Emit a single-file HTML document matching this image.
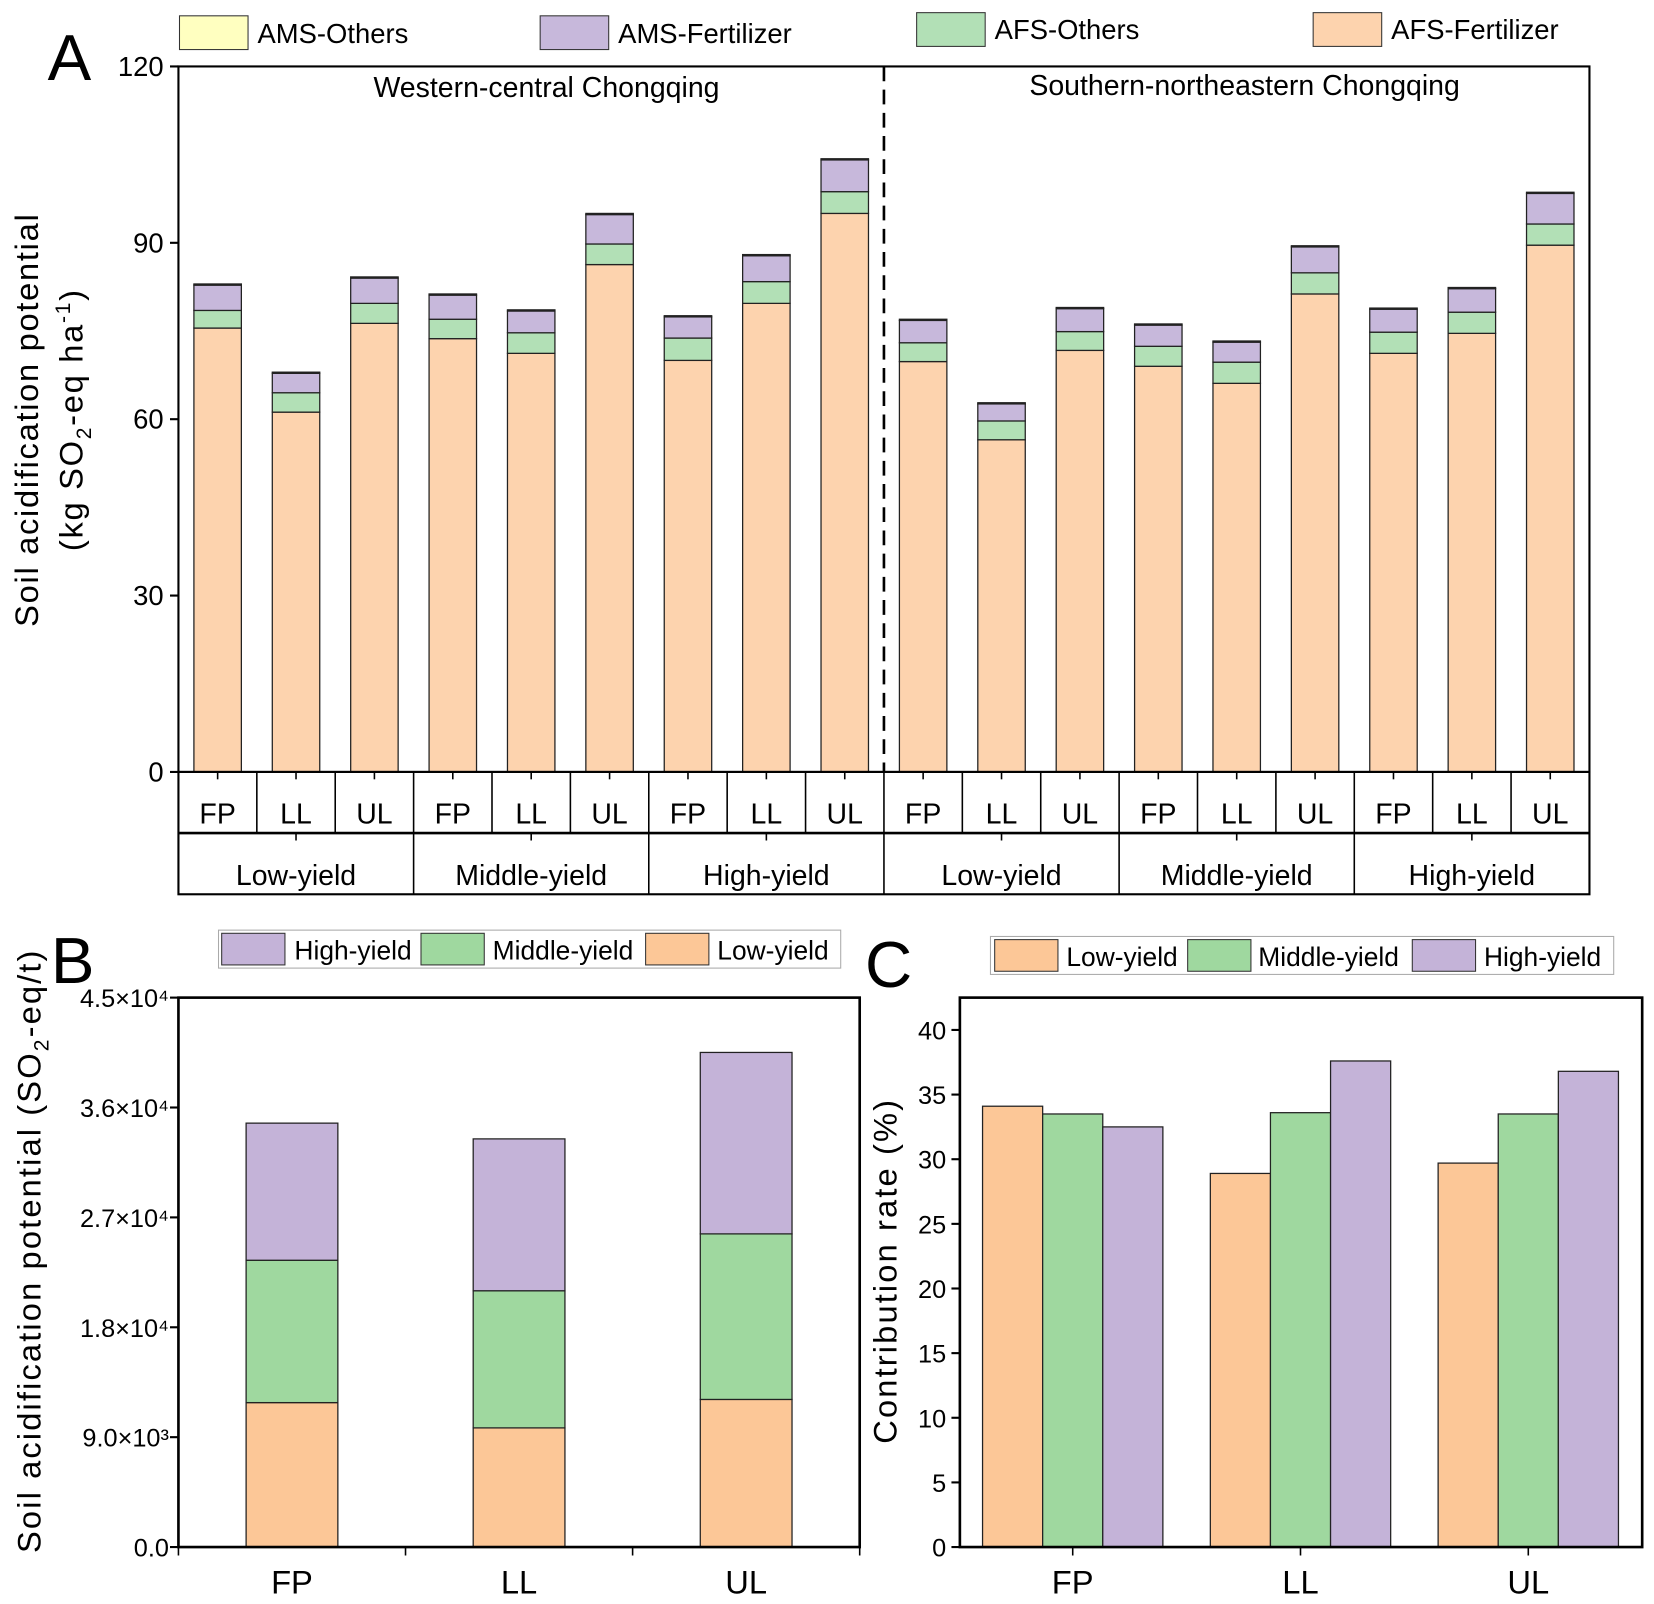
<!DOCTYPE html>
<html><head><meta charset="utf-8"><style>
html,body{margin:0;padding:0;background:#fff}
svg{display:block;font-family:"Liberation Sans",Arial,sans-serif}
</style></head><body>
<svg id="fig" width="1654" height="1604" viewBox="0 0 1568 1521" xmlns="http://www.w3.org/2000/svg">
<rect width="1568" height="1521" fill="#fff"/>
<g id="pa">
<text x="45" y="76" font-size="62">A</text>
<g font-size="26">
<rect x="170" y="15" width="65" height="32" fill="#FFFFC0" stroke="#333"/>
<text x="244" y="41">AMS-Others</text>
<rect x="512" y="15" width="65" height="32" fill="#C7B8DB" stroke="#333"/>
<text x="586" y="41">AMS-Fertilizer</text>
<rect x="869" y="12" width="65" height="32" fill="#B2E0B6" stroke="#333"/>
<text x="943" y="37">AFS-Others</text>
<rect x="1245" y="12" width="65" height="32" fill="#FDD3AE" stroke="#333"/>
<text x="1319" y="37">AFS-Fertilizer</text>
</g>
<text x="518" y="92" font-size="27" text-anchor="middle">Western-central Chongqing</text>
<text x="1180" y="90" font-size="27" text-anchor="middle">Southern-northeastern Chongqing</text>
<g transform="translate(36,398) rotate(-90)" font-size="31" letter-spacing="1.6" text-anchor="middle">
<text x="0" y="0">Soil acidification potential</text>
<text x="0" y="42">(kg SO<tspan font-size="20" dy="8">2</tspan><tspan dy="-8">-eq ha</tspan><tspan font-size="20" dy="-12">-1</tspan><tspan dy="12">)</tspan></text>
</g>
</g>
<g id="pb">
<text x="48" y="932" font-size="62">B</text>
<g font-size="25">
<rect x="207" y="882" width="590" height="36" fill="#fff" stroke="#aaa"/>
<rect x="210" y="885" width="60" height="30" fill="#C4B3D8" stroke="#333"/>
<text x="279" y="910">High-yield</text>
<rect x="399" y="885" width="60" height="30" fill="#9FD89F" stroke="#333"/>
<text x="467" y="910">Middle-yield</text>
<rect x="612" y="885" width="60" height="30" fill="#FCC797" stroke="#333"/>
<text x="680" y="910">Low-yield</text>
</g>
<text transform="translate(38,1186) rotate(-90)" font-size="31" letter-spacing="2" text-anchor="middle">Soil acidification potential (SO<tspan font-size="20" dy="8">2</tspan><tspan dy="-8">-eq/t)</tspan></text>
</g>
<g id="pc">
<text x="820" y="936" font-size="62">C</text>
<g font-size="25">
<rect x="939" y="888" width="591" height="36" fill="#fff" stroke="#aaa"/>
<rect x="943" y="891" width="60" height="30" fill="#FCC797" stroke="#333"/>
<text x="1011" y="916">Low-yield</text>
<rect x="1126" y="891" width="60" height="30" fill="#9FD89F" stroke="#333"/>
<text x="1193" y="916">Middle-yield</text>
<rect x="1339" y="891" width="60" height="30" fill="#C4B3D8" stroke="#333"/>
<text x="1407" y="916">High-yield</text>
</g>
<text transform="translate(850,1205) rotate(-90)" font-size="31" letter-spacing="2" text-anchor="middle">Contribution rate (%)</text>
</g>
</svg>
<script>
// ---------- Panel A data ----------
const aTreatments = ["FP","LL","UL","FP","LL","UL","FP","LL","UL","FP","LL","UL","FP","LL","UL","FP","LL","UL"];
const aYieldGroups = ["Low-yield","Middle-yield","High-yield","Low-yield","Middle-yield","High-yield"];
const aAfsFertilizer = [75.5,61.2,76.3,73.7,71.2,86.3,70.0,79.7,95.0,69.8,56.5,71.7,69.0,66.1,81.3,71.2,74.6,89.6];
const aAfsOthers = [3.0,3.3,3.4,3.3,3.5,3.5,3.8,3.7,3.7,3.2,3.2,3.2,3.4,3.6,3.6,3.6,3.6,3.6];
const aAmsFertilizer = [4.3,3.3,4.3,4.1,3.7,5.0,3.6,4.4,5.4,3.8,2.9,3.9,3.6,3.4,4.4,3.9,4.0,5.2];
const aAmsOthers = [0.2,0.2,0.2,0.2,0.2,0.2,0.2,0.2,0.2,0.2,0.2,0.2,0.2,0.2,0.2,0.2,0.2,0.2];
const aYTicks = [0,30,60,90,120];
// ---------- Panel B data ----------
const bCategories = ["FP","LL","UL"];
const bLow = [11830,9760,12090];
const bMiddle = [11660,11230,13560];
const bHigh = [11230,12440,14860];
const bYTicks = [0,9000,18000,27000,36000,45000];
const bYTickLabels = ["0.0","9.0×10³","1.8×10⁴","2.7×10⁴","3.6×10⁴","4.5×10⁴"];
// ---------- Panel C data ----------
const cCategories = ["FP","LL","UL"];
const cLow = [34.1,28.9,29.7];
const cMiddle = [33.5,33.6,33.5];
const cHigh = [32.5,37.6,36.8];
const cYTicks = [0,5,10,15,20,25,30,35,40];

const NS="http://www.w3.org/2000/svg";
function mk(parent,tag,attrs,txt){const e=document.createElementNS(NS,tag);for(const k in attrs)e.setAttribute(k,attrs[k]);if(txt!==undefined)e.textContent=txt;parent.appendChild(e);return e;}

(function(){
const g=document.getElementById('pa');
const L=169,R=1507,T=63,B=732,ymax=120;
const y=v=>B-(v/ymax)*(B-T);
const slot=(R-L)/aTreatments.length;
const cx=i=>L+slot*(i+0.5);
const bw=45;
const cols=["#FDD3AE","#B2E0B6","#C7B8DB","#FFFFC0"];
const names=["afs-fertilizer","afs-others","ams-fertilizer","ams-others"];
const series=[aAfsFertilizer,aAfsOthers,aAmsFertilizer,aAmsOthers];
for(let i=0;i<aTreatments.length;i++){
  let base=0;
  for(let s=0;s<4;s++){
    const v=series[s][i];
    const r=mk(g,'rect',{x:cx(i)-bw/2,y:y(base+v),width:bw,height:y(base)-y(base+v),fill:cols[s],stroke:"#222","stroke-width":1.2});
    
    
    base+=v;
  }
}
const fr=mk(g,'rect',{x:L,y:T,width:R-L,height:B-T,fill:"none",stroke:"#000","stroke-width":2});

const dl=mk(g,'line',{x1:(L+R)/2,y1:T,x2:(L+R)/2,y2:B,stroke:"#000","stroke-width":2.5,"stroke-dasharray":"14,8"});

aYTicks.forEach(t=>{
  const tl=mk(g,'line',{x1:L-8,y1:y(t),x2:L,y2:y(t),stroke:"#000","stroke-width":2});
  
  const tx=mk(g,'text',{x:L-14,y:y(t)+9,"font-size":26,"text-anchor":"end"},String(t));
  
});
const r1=790,r2=848;
const tb=mk(g,'rect',{x:L,y:B,width:R-L,height:r2-B,fill:"none",stroke:"#000","stroke-width":2});

mk(g,'line',{x1:L,y1:r1,x2:R,y2:r1,stroke:"#000","stroke-width":2.5});
for(let i=0;i<aTreatments.length;i++){
  if(i>0){mk(g,'line',{x1:L+slot*i,y1:B,x2:L+slot*i,y2:r1,stroke:"#000","stroke-width":1.5});}
  mk(g,'line',{x1:cx(i),y1:B,x2:cx(i),y2:B+7,stroke:"#000","stroke-width":1.5});
  const t=mk(g,'text',{x:cx(i),y:781,"font-size":27,"text-anchor":"middle"},aTreatments[i]);
  
}
const gw=(R-L)/aYieldGroups.length;
aYieldGroups.forEach((n,j)=>{
  if(j>0)mk(g,'line',{x1:L+gw*j,y1:r1,x2:L+gw*j,y2:r2,stroke:"#000","stroke-width":1.5});
  mk(g,'line',{x1:L+gw*(j+0.5),y1:r1,x2:L+gw*(j+0.5),y2:r1+7,stroke:"#000","stroke-width":1.5});
  const t=mk(g,'text',{x:L+gw*(j+0.5),y:839,"font-size":27,"text-anchor":"middle"},n);
  
});
})();

(function(){
const g=document.getElementById('pb');
const L=169,R=815,T=946,B=1467,ymax=45000;
const y=v=>B-(v/ymax)*(B-T);
const centers=i=>L+(R-L)*(i+0.5)/bCategories.length;
const bw=87;
const ser=[bLow,bMiddle,bHigh],cols=["#FCC797","#9FD89F","#C4B3D8"],nm=["low","middle","high"];
bCategories.forEach((c,i)=>{
  let base=0;
  for(let s=0;s<3;s++){
    const v=ser[s][i];
    const r=mk(g,'rect',{x:centers(i)-bw/2,y:y(base+v),width:bw,height:y(base)-y(base+v),fill:cols[s],stroke:"#222","stroke-width":1.2});
    
    
    base+=v;
  }
  const t=mk(g,'text',{x:centers(i),y:1511,"font-size":31,"text-anchor":"middle"},c);
  
});
const fr=mk(g,'rect',{x:L,y:T,width:R-L,height:B-T,fill:"none",stroke:"#000","stroke-width":2.5});

for(let k=0;k<=3;k++){mk(g,'line',{x1:L+(R-L)*k/3,y1:B,x2:L+(R-L)*k/3,y2:B+8,stroke:"#000","stroke-width":1.5});}
bYTicks.forEach((t,k)=>{
  mk(g,'line',{x1:L-8,y1:y(t),x2:L,y2:y(t),stroke:"#000","stroke-width":2});
  const tx=mk(g,'text',{x:L-9,y:y(t)+9,"font-size":24,"text-anchor":"end"},bYTickLabels[k]);
  
});
})();

(function(){
const g=document.getElementById('pc');
const L=910,R=1557,T=946,B=1467,ymax=42.5;
const y=v=>B-(v/ymax)*(B-T);
const centers=[1017,1233,1449];
const bw=57;
const ser=[cLow,cMiddle,cHigh],cols=["#FCC797","#9FD89F","#C4B3D8"],nm=["low","middle","high"];
cCategories.forEach((c,i)=>{
  for(let s=0;s<3;s++){
    const v=ser[s][i];
    const x=centers[i]-1.5*bw+s*bw;
    const r=mk(g,'rect',{x:x,y:y(v),width:bw,height:B-y(v),fill:cols[s],stroke:"#222","stroke-width":1.2});
    
    
  }
  mk(g,'line',{x1:centers[i],y1:B,x2:centers[i],y2:B+8,stroke:"#000","stroke-width":1.5});
  const t=mk(g,'text',{x:centers[i],y:1511,"font-size":31,"text-anchor":"middle"},c);
  
});
const fr=mk(g,'rect',{x:L,y:T,width:R-L,height:B-T,fill:"none",stroke:"#000","stroke-width":2.5});

cYTicks.forEach(t=>{
  mk(g,'line',{x1:L-8,y1:y(t),x2:L,y2:y(t),stroke:"#000","stroke-width":2});
  const tx=mk(g,'text',{x:L-13,y:y(t)+9,"font-size":24,"text-anchor":"end"},String(t));
  
});
})();
</script>
</body></html>
